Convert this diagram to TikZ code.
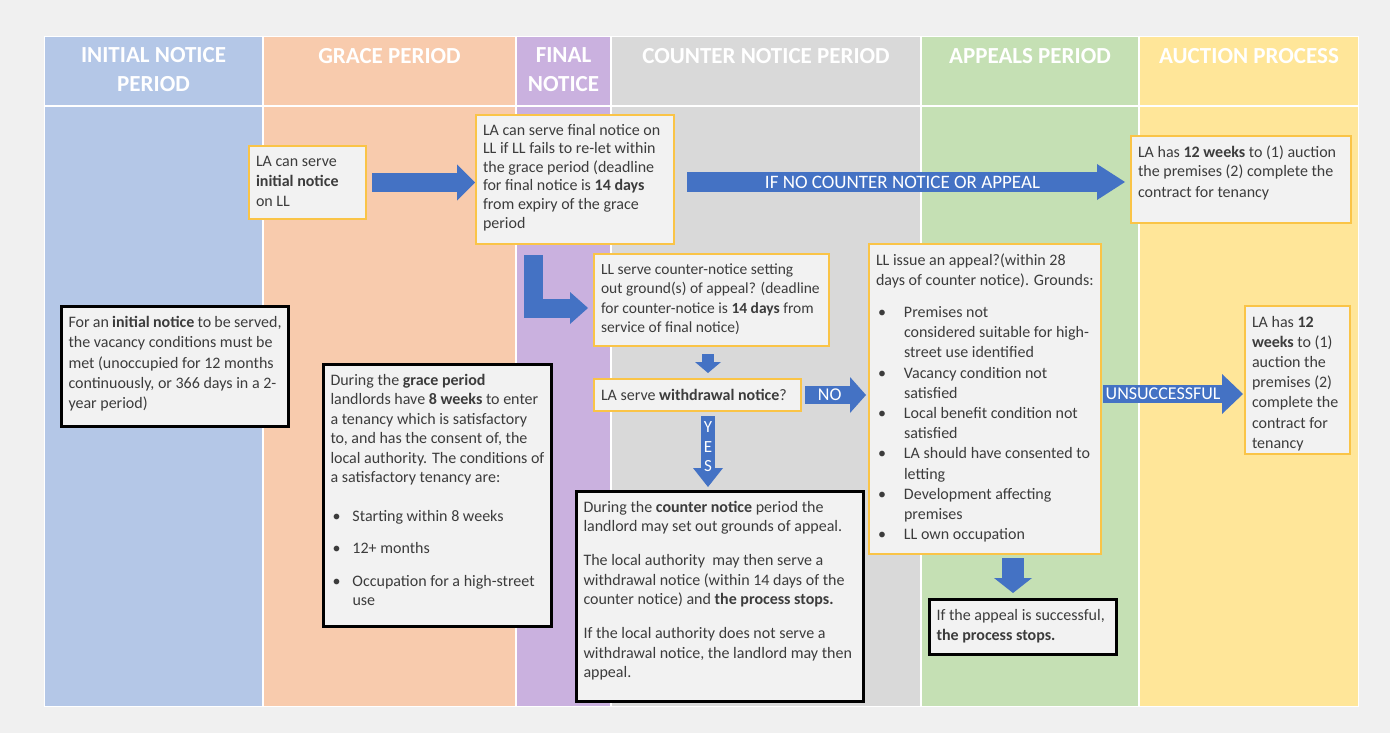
\documentclass[tikz,border=0pt]{standalone}
\usepackage{fontspec}
\setmainfont{Carlito}
\usetikzlibrary{arrows.meta,calc}
\definecolor{bgc}{HTML}{F0F0F0}
\definecolor{lblue}{HTML}{B4C7E7}
\definecolor{lorange}{HTML}{F8CBAD}
\definecolor{lpurple}{HTML}{CAB1DF}
\definecolor{lgray}{HTML}{D9D9D9}
\definecolor{lgreen}{HTML}{C5E0B4}
\definecolor{lyellow}{HTML}{FFE699}
\definecolor{boxfill}{HTML}{F2F2F2}
\definecolor{yborder}{HTML}{FAC447}
\definecolor{arrowblue}{HTML}{4472C4}
\definecolor{txt}{HTML}{3C3C3C}
\newcommand\bx[3]{\begin{minipage}[c][#2][t]{#1}\strut #3\end{minipage}}
\newcommand\bl[2]{\par\hangindent=#1\hangafter=1\noindent\makebox[#1][l]{\hspace*{2pt}\textbullet}#2}
\begin{document}
\begin{tikzpicture}[x=1pt,y=-1pt,
 lane/.style={draw=none, inner sep=0pt, anchor=north west, minimum height=669pt},
 hdr/.style={text=white, font=\fontsize{23}{29}\selectfont\bfseries, align=center, inner sep=0pt},
 ybox/.style={draw=yborder, line width=2pt, fill=boxfill, inner xsep=7pt, inner ysep=7pt, anchor=north west, text=txt, font=\fontsize{16}{20}\selectfont},
 kbox/.style={ybox, draw=black, line width=3pt},
 barrow/.style n args={3}{draw=arrowblue, line width=#1, line cap=butt, line join=miter, -{Triangle[length=#3, width=#2, line width=0pt]}},
 albl/.style={text=white, inner sep=0pt, font=\fontsize{#1}{#1}\selectfont}
]
\useasboundingbox (0,0) rectangle (1390,733);
\fill[bgc] (0,0) rectangle (1390,733);
\fill[white] (44,36) rectangle (1359,707);
% lanes
\node[lane, fill=lblue, minimum width=217pt] (lane1) at (45,37) {};
\node[lane, fill=lorange, minimum width=251pt] (lane2) at (264,37) {};
\node[lane, fill=lpurple, minimum width=93pt] (lane3) at (517,37) {};
\node[lane, fill=lgray, minimum width=308pt] (lane4) at (612,37) {};
\node[lane, fill=lgreen, minimum width=216pt] (lane5) at (922,37) {};
\node[lane, fill=lyellow, minimum width=218pt] (lane6) at (1140,37) {};
\draw[white, line width=1.5pt] (lane1.north west |- 0,106) -- (lane6.north east |- 0,106);
% headers
\node[hdr] (h1) at (153.5,70) {INITIAL NOTICE\\PERIOD};
\node[hdr] (h2) at (389.5,56) {GRACE PERIOD};
\node[hdr] (h3) at (563.5,70) {FINAL\\NOTICE};
\node[hdr] (h4) at (766,56) {COUNTER NOTICE PERIOD};
\node[hdr] (h5) at (1030,56) {APPEALS PERIOD};
\node[hdr] (h6) at (1249,56) {AUCTION PROCESS};
% boxes
\node[ybox] (binit) at (248,145) {\bx{103pt}{59pt}{LA can serve\\\textbf{initial notice}\\on LL}};
\node[ybox, font=\fontsize{16}{18.6}\selectfont] (bfinal) at (475,114) {\bx{184pt}{115pt}{LA can serve final notice on\\LL if LL fails to re-let within\\the grace period (deadline\\for final notice is \textbf{14 days}\\from expiry of the grace\\period}};
\node[ybox] (bauc1) at (1130,135) {\bx{206pt}{73pt}{LA has \textbf{12 weeks} to (1) auction\\the premises (2) complete the\\contract for tenancy}};
\node[ybox, font=\fontsize{15.5}{19.4}\selectfont] (bcn) at (593,253) {\bx{221pt}{78pt}{LL serve counter-notice setting\\out ground(s) of appeal? (deadline\\for counter-notice is \textbf{14 days} from\\service of final notice)}};
\node[ybox] (bwd) at (593,378) {\bx{193pt}{18pt}{LA serve \textbf{withdrawal notice}?}};
\node[ybox, font=\fontsize{16}{20.2}\selectfont] (bappeal) at (868,243) {\bx{218pt}{296pt}{LL issue an appeal?(within 28\\days of counter notice). Grounds:\par\vspace{12pt}%
\bl{28pt}{Premises not\\considered suitable for high-\\street use identified}%
\bl{28pt}{Vacancy condition not\\satisfied}%
\bl{28pt}{Local benefit condition not\\satisfied}%
\bl{28pt}{LA should have consented to\\letting}%
\bl{28pt}{Development affecting\\premises}%
\bl{28pt}{LL own occupation}}};
\node[ybox, font=\fontsize{16}{20.2}\selectfont] (bauc2) at (1244,305) {\bx{91pt}{134pt}{LA has \textbf{12}\\\textbf{weeks} to (1)\\auction the\\premises (2)\\complete the\\contract for\\tenancy}};
\node[kbox, font=\fontsize{16}{20.2}\selectfont] (binit2) at (60,305) {\bx{213pt}{106pt}{For an \textbf{initial notice} to be served,\\the vacancy conditions must be\\met (unoccupied for 12 months\\continuously, or 366 days in a 2-\\year period)}};
\node[kbox, font=\fontsize{16}{19.5}\selectfont] (bgrace) at (322,363) {\bx{214pt}{248pt}{During the \textbf{grace period}\\landlords have \textbf{8 weeks} to enter\\a tenancy which is satisfactory\\to, and has the consent of, the\\local authority. The conditions of\\a satisfactory tenancy are:\par\vspace{19pt}%
\bl{22pt}{Starting within 8 weeks}\par\vspace{13pt}%
\bl{22pt}{12+ months}\par\vspace{13pt}%
\bl{22pt}{Occupation for a high-street\\use}}};
\node[kbox, font=\fontsize{16}{19.5}\selectfont] (bcnp) at (575,490) {\bx{273pt}{196pt}{During the \textbf{counter notice} period the\\landlord may set out grounds of appeal.\par\vspace{14.5pt}%
The local authority\ \ may then serve a\\withdrawal notice (within 14 days of the\\counter notice) and \textbf{the process stops.}\par\vspace{14.5pt}%
If the local authority does not serve a\\withdrawal notice, the landlord may then\\appeal.}};
\node[kbox, font=\fontsize{16}{20}\selectfont] (bsucc) at (928,598) {\bx{173pt}{41pt}{If the appeal is successful,\\\textbf{the process stops.}}};
% connectors
\coordinate (colx) at (708,0);
\coordinate (apx) at (1013,0);
\coordinate (lstart) at ($(bfinal.south west)+(58,10)$);
\coordinate (nc) at ($(bfinal.east)+(0,2.5)$);
\coordinate (u0) at ($(bappeal.east)+(0,-5)$);
\draw[barrow={19pt}{36pt}{18pt}, shorten <=5pt] (binit.east) -- (binit.east -| bfinal.west);
\draw[barrow={20pt}{36pt}{28pt}, shorten <=12pt, shorten >=5pt] (nc) -- (nc -| bauc1.west)
  node[midway, albl=19] {IF NO COUNTER NOTICE OR APPEAL};
\draw[barrow={19pt}{32pt}{18pt}] (lstart) |- ($(bcn.west)+(-5,8)$);
\draw[barrow={12pt}{26pt}{11pt}, shorten <=7pt, shorten >=5pt] (bcn.south -| colx) -- (bwd.north -| colx);
\draw[barrow={18pt}{36pt}{16pt}, shorten <=3pt, shorten >=2pt] (bwd.east) -- (bwd.east -| bappeal.west)
  node[pos=0.42, albl=18] {NO};
\draw[barrow={14pt}{30pt}{19pt}, shorten <=4pt, shorten >=3pt] (bwd.south -| colx) -- (bcnp.north -| colx)
  node[pos=0.45, albl=17, align=center, font=\fontsize{17}{19.5}\selectfont] {Y\\E\\S};
\draw[barrow={22pt}{38pt}{15pt}, shorten <=3pt, shorten >=5pt] (bappeal.south -| apx) -- (bsucc.north -| apx);
\draw[barrow={18pt}{40pt}{21pt}, shorten <=1pt, shorten >=1pt] (u0) -- (u0 -| bauc2.west)
  node[pos=0.43, albl=18] {UNSUCCESSFUL};
\end{tikzpicture}
\end{document}
